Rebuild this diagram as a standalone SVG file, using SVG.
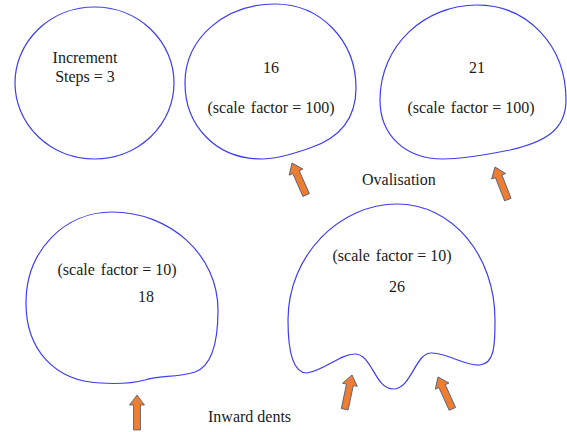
<svg xmlns="http://www.w3.org/2000/svg" xmlns:xlink="http://www.w3.org/1999/xlink" width="567" height="432" viewBox="0 0 567 432">
<style>
.shape{fill:none;stroke:#3d3df2;stroke-width:1.2}
text{font-family:'Liberation Serif','DejaVu Serif','Times New Roman',serif;font-size:16px;fill:#1a1a1a}
.t{text-anchor:middle}
.arr{fill:#ed7d31;stroke:#4a5a78;stroke-width:0.8}
</style>
<defs>
<polygon id="arrow" class="arr" points="0,0 7.5,10 3.5,10 3.5,35 -3.5,35 -3.5,10 -7.5,10"/>
</defs>
<rect width="567" height="432" fill="#ffffff"/>
<g id="shape-increment">
<ellipse class="shape" cx="94.5" cy="83" rx="79.5" ry="76" stroke="#6a6af5"/>
<text class="t" x="85" y="63">Increment</text>
<text class="t" x="85" y="82">Steps = 3</text>
</g>
<g id="shape-16">
<path class="shape" d="M 275,4 C 320,4 356,40 356,88 C 356,118 340,138 310,148 C 290,155 275,159 262,159 C 215,159 185,125 185,83 C 185,38 225,4 275,4 Z"/>
<text class="t" x="271" y="73">16</text>
<text class="t" x="271" y="113">(scale <tspan dx="2">factor = 100)</tspan></text>
</g>
<g id="shape-21">
<path class="shape" d="M 477,5 C 527,5 566,45 566,100 C 566,130 545,142 510,150 C 480,156 460,159 443,159 C 405,159 380,135 380,100 C 380,45 425,5 477,5 Z"/>
<text class="t" x="477" y="73">21</text>
<text class="t" x="471" y="113">(scale <tspan dx="2">factor = 100)</tspan></text>
</g>
<g id="shape-18">
<path class="shape" d="M 112,212 C 170,212 218,255 218,310 C 218,342 212,366 195,372 C 175,378 160,375 145,380 C 130,384 115,384 100,383 C 55,381 26,350 26,303 C 26,250 65,212 112,212 Z"/>
<text class="t" x="117" y="275">(scale <tspan dx="2">factor = 10)</tspan></text>
<text class="t" x="146" y="302">18</text>
</g>
<g id="shape-26">
<path class="shape" d="M 397,204 C 452,204 495,255 495,320 C 495,348 494,363 480,365 C 465,366 450,354 432,353 C 415,352 412,389 393,389 C 375,389 372,354 355,354 C 340,354 325,370 307,373 C 293,373 288,350 288,320 C 288,255 340,204 397,204 Z"/>
<text class="t" x="392" y="261">(scale <tspan dx="2">factor = 10)</tspan></text>
<text class="t" x="397" y="292">26</text>
</g>
<g id="labels">
<text x="362" y="185">Ovalisation</text>
<text x="208" y="422">Inward dents</text>
</g>
<g id="connectors">
<use xlink:href="#arrow" href="#arrow" transform="translate(292,163) rotate(-23.8)"/>
<use xlink:href="#arrow" href="#arrow" transform="translate(495,167) rotate(-21.5)"/>
<use xlink:href="#arrow" href="#arrow" transform="translate(137,395)"/>
<use xlink:href="#arrow" href="#arrow" transform="translate(352,375) rotate(12)"/>
<use xlink:href="#arrow" href="#arrow" transform="translate(438,377) rotate(-24.3)"/>
</g>
</svg>
